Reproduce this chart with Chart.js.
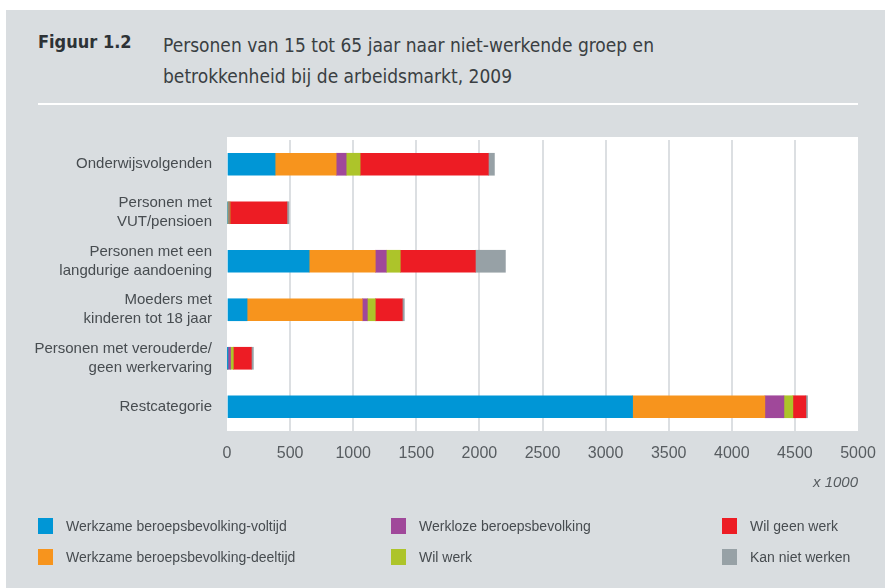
<!DOCTYPE html>
<html>
<head>
<meta charset="utf-8">
<script src="https://cdn.jsdelivr.net/npm/chart.js@4.4.1/dist/chart.umd.min.js"></script>
<style>
  html, body { margin: 0; padding: 0; background: #ffffff; }
  #wrap { position: relative; width: 885px; height: 588px; overflow: hidden; }
  #panel { position: absolute; left: 6px; top: 10px; width: 879px; height: 578px; background: #d9dde0; }
  #c { position: absolute; left: 0; top: 0; }
  .t { position: absolute; white-space: nowrap; color: #3a3f43; }
  #fig { left: 38px; top: 31px; font: bold 18px "Liberation Sans Narrow", "DejaVu Sans Condensed", "Liberation Sans", sans-serif; color: #2d3236; }
  #ttl { left: 163px; top: 30px; font: 19px "Liberation Sans Narrow", "DejaVu Sans Condensed", "Liberation Sans", sans-serif; line-height: 31px; color: #3a3f43; }
  #rule { position: absolute; left: 38px; top: 103px; width: 820px; height: 2px; background: #ffffff; }
  .sw { position: absolute; width: 15px; height: 16px; }
  .lg { position: absolute; font: 14px "Liberation Sans", Arial, sans-serif; color: #474c50; white-space: nowrap; line-height: 16px; }
</style>
</head>
<body>
<div id="wrap">
  <div id="panel"></div>
  <div class="t" id="fig">Figuur 1.2</div>
  <div class="t" id="ttl">Personen van 15 tot 65 jaar naar niet-werkende groep en<br>betrokkenheid bij de arbeidsmarkt, 2009</div>
  <div id="rule"></div>
  <canvas id="c" width="885" height="588"></canvas>
  <div id="legend"></div>
</div>
<script>
const categories = [
  ["Onderwijsvolgenden"],
  ["Personen met", "VUT/pensioen"],
  ["Personen met een", "langdurige aandoening"],
  ["Moeders met", "kinderen tot 18 jaar"],
  ["Personen met verouderde/", "geen werkervaring"],
  ["Restcategorie"]
];
const seriesNames = [
  "Werkzame beroepsbevolking-voltijd",
  "Werkzame beroepsbevolking-deeltijd",
  "Werkloze beroepsbevolking",
  "Wil werk",
  "Wil geen werk",
  "Kan niet werken"
];
const voltijd   = [381, 6, 651, 159, 3, 3214];
const deeltijd  = [484, 6, 524, 913, 3, 1048];
const werkloos  = [79, 6, 87, 40, 22, 151];
const wilWerk   = [111, 6, 111, 63, 22, 71];
const wilGeen   = [1016, 451, 595, 214, 143, 103];
const kanNiet   = [48, 16, 238, 16, 16, 13];
const xTicks = [0, 500, 1000, 1500, 2000, 2500, 3000, 3500, 4000, 4500, 5000];
const colors = ["#0096d6", "#f7941d", "#a0489a", "#adc42a", "#ed1c24", "#97a1a6"];
const allSeries = [voltijd, deeltijd, werkloos, wilWerk, wilGeen, kanNiet];

const plotBg = {
  id: 'plotBg',
  beforeDraw(chart) {
    const {ctx, chartArea: a} = chart;
    ctx.save();
    ctx.fillStyle = '#ffffff';
    ctx.fillRect(a.left, a.top - 3, a.right - a.left, a.bottom - a.top + 3);
    ctx.restore();
  }
};

new Chart(document.getElementById('c'), {
  type: 'bar',
  data: {
    labels: categories,
    datasets: allSeries.map((d, i) => ({
      label: seriesNames[i],
      data: d,
      backgroundColor: colors[i],
      borderWidth: 0,
      barThickness: 22
    }))
  },
  options: {
    indexAxis: 'y',
    responsive: false,
    animation: false,
    layout: { padding: { left: 0, right: 27, top: 140, bottom: 0 } },
    plugins: { legend: { display: false }, tooltip: { enabled: false } },
    scales: {
      x: {
        stacked: true,
        min: 0, max: 5000,
        afterBuildTicks(s) { s.ticks = xTicks.map(v => ({ value: v })); },
        afterFit(s) { s.height = 157; s.paddingLeft = 0; s.paddingRight = 0; },
        border: { display: false },
        grid: {
          drawTicks: false,
          lineWidth: 2,
          color: ctx => (ctx.tick && (ctx.tick.value === 0 || ctx.tick.value === 5000)) ? 'rgba(0,0,0,0)' : '#dcdfe2'
        },
        ticks: {
          padding: 13,
          color: '#575c60',
          font: { family: '"Liberation Sans", Arial, sans-serif', size: 16 },
          callback: v => String(v)
        },
        title: {
          display: true,
          text: 'x 1000',
          align: 'end',
          color: '#575c60',
          font: { family: '"Liberation Sans", Arial, sans-serif', size: 15, style: 'italic' },
          padding: { top: 0, bottom: 96 }
        }
      },
      y: {
        stacked: true,
        afterFit(s) { s.width = 227; },
        border: { display: false },
        grid: { display: false, drawTicks: false },
        ticks: {
          padding: 15,
          color: '#474c50',
          font: { family: '"Liberation Sans", Arial, sans-serif', size: 15, lineHeight: 1.27 }
        }
      }
    }
  },
  plugins: [plotBg]
});

// legend (HTML)
const legendPos = [
  [38, 518], [38, 549],
  [391, 518], [391, 549],
  [722, 518], [722, 549]
];
const textX = [66, 66, 419, 419, 750, 750];
const lg = document.getElementById('legend');
seriesNames.forEach((n, i) => {
  const sw = document.createElement('div');
  sw.className = 'sw';
  sw.style.left = legendPos[i][0] + 'px';
  sw.style.top = legendPos[i][1] + 'px';
  sw.style.background = colors[i];
  lg.appendChild(sw);
  const t = document.createElement('div');
  t.className = 'lg';
  t.style.left = textX[i] + 'px';
  t.style.top = legendPos[i][1] + 'px';
  t.textContent = n;
  lg.appendChild(t);
});
</script>
</body>
</html>
